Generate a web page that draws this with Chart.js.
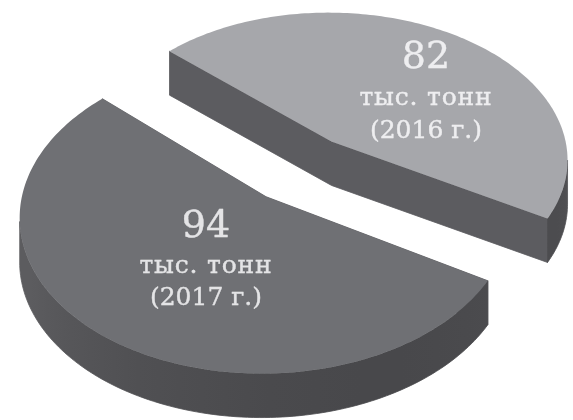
<!DOCTYPE html>
<html>
<head>
<meta charset="utf-8">
<style>
	html, body { margin: 0; background: #ffffff; }
	canvas { display: block; filter: blur(0.7px); }
</style>
<script src="https://cdn.jsdelivr.net/npm/chart.js@4/dist/chart.umd.js"></script>
</head>
<body>
<canvas id="Chart" width="573" height="420"></canvas>
<script>
var years = ["2016", "2017"];
var values = [82, 94];
var units = "тыс. тонн";
var faceColors = ["#a6a7ab", "#6f7074"];
var wallColor = "#5c5c60";

// camera of the tilted plate, plane units are pie radii
var camera = {cx: 299.5, cy: 168.5, a: 239, b: 149.5, p: 0.115, depth: 44};
var explode = 0.23;

function project(x, y)
{
	var w = 1 - camera.p * y;
	return {x: camera.cx + camera.a * x / w, y: camera.cy + camera.b * y / w};
}

// the two flat cut walls as one shape, so no seam shows at the apex
function drawCutWalls(ctx, from, apex, to)
{
	var d = camera.depth;
	ctx.fillStyle = wallColor;
	ctx.strokeStyle = wallColor;
	ctx.lineWidth = 0.8;
	ctx.lineJoin = "round";
	ctx.beginPath();
	ctx.moveTo(from.x, from.y);
	ctx.lineTo(apex.x, apex.y);
	ctx.lineTo(to.x, to.y);
	ctx.lineTo(to.x, to.y + d);
	ctx.lineTo(apex.x, apex.y + d);
	ctx.lineTo(from.x, from.y + d);
	ctx.closePath();
	ctx.fill();
	ctx.stroke();
}

// rim goes darker towards the front of the plate
function rimColor(angle)
{
	var c = Math.cos(angle - 1.1);
	var v = Math.round(92 - 20 * Math.max(c, 0));
	return "rgb(" + v + "," + v + "," + (v + 3) + ")";
}

function drawRim(ctx, rim)
{
	// only the part of the rim that faces the viewer
	var front = rim.filter(function (r, i)
	{
		return i < rim.length - 1 ? rim[i + 1].p.x < r.p.x : rim[i - 1].p.x > r.p.x;
	});
	if (front.length < 2)
		return;

	var x0 = front[0].p.x;
	var x1 = front[front.length - 1].p.x;
	var gradient = ctx.createLinearGradient(x0, 0, x1, 0);
	front.forEach(function (r, i)
	{
		if (i % 8 == 0)
			gradient.addColorStop((r.p.x - x0) / (x1 - x0), rimColor(r.a));
	});

	ctx.fillStyle = gradient;
	ctx.strokeStyle = gradient;
	ctx.lineWidth = 0.8;
	ctx.beginPath();
	front.forEach(function (r)
	{
		ctx.lineTo(r.p.x, r.p.y);
	});
	front.slice().reverse().forEach(function (r)
	{
		ctx.lineTo(r.p.x, r.p.y + camera.depth);
	});
	ctx.closePath();
	ctx.fill();
	ctx.stroke();
}

class Arc3D extends Chart.ArcElement
{
	draw(ctx)
	{
		var start = this.startAngle;
		var end = this.endAngle;
		var mid = (start + end) / 2;
		var ox = Math.cos(mid) * explode;
		var oy = Math.sin(mid) * explode;
		var steps = 160;
		var rim = [];
		for (var i = 0; i <= steps; i++)
		{
			var t = start + (end - start) * i / steps;
			rim.push({a: t, p: project(ox + Math.cos(t), oy + Math.sin(t))});
		}
		var apex = project(ox, oy);

		drawCutWalls(ctx, rim[0].p, apex, rim[steps].p);
		drawRim(ctx, rim);

		ctx.fillStyle = this.options.backgroundColor;
		ctx.beginPath();
		ctx.moveTo(apex.x, apex.y);
		rim.forEach(function (r)
		{
			ctx.lineTo(r.p.x, r.p.y);
		});
		ctx.closePath();
		ctx.fill();
	}
}
Arc3D.id = "arc3d";
Arc3D.defaults = Chart.ArcElement.defaults;
Arc3D.defaultRoutes = Chart.ArcElement.defaultRoutes;
Arc3D.descriptors = Chart.ArcElement.descriptors;

class Plate3D extends Chart.PieController
{
}
Plate3D.id = "plate3d";
Plate3D.defaults = {dataElementType: "arc3d"};

Chart.register(Arc3D, Plate3D);

var labelSpots = [
	{x: 426, number: 68, unit: 105, year: 138, color: "#eeeef0"},
	{x: 206, number: 237, unit: 273, year: 305, color: "#e4e4e6"}
];

var labelPlugin = {
	id: "labels",
	afterDraw: function (chart)
	{
		var ctx = chart.ctx;

		function text(s, x, y, color)
		{
			ctx.fillStyle = color;
			ctx.strokeStyle = color;
			ctx.lineWidth = 0.4;
			ctx.fillText(s, x, y);
			ctx.strokeText(s, x, y);
		}

		ctx.save();
		ctx.textAlign = "center";
		values.forEach(function (v, i)
		{
			var s = labelSpots[i];
			ctx.font = "38px 'DejaVu Serif'";
			ctx.letterSpacing = "0px";
			text(String(v), s.x, s.number, s.color);
			ctx.font = "25px 'DejaVu Serif'";
			text("(" + years[i] + " г.)", s.x, s.year, s.color);
			ctx.letterSpacing = "0.8px";
			text(units, s.x, s.unit, s.color);
		});
		ctx.restore();
	}
};

new Chart(document.getElementById("Chart"), {
	type: "plate3d",
	data: {
		labels: years,
		datasets: [{data: values, backgroundColor: faceColors, borderWidth: 0}]
	},
	options: {
		responsive: false,
		animation: false,
		rotation: -47.3,
		plugins: {legend: {display: false}, tooltip: {enabled: false}}
	},
	plugins: [labelPlugin]
});
</script>
</body>
</html>
